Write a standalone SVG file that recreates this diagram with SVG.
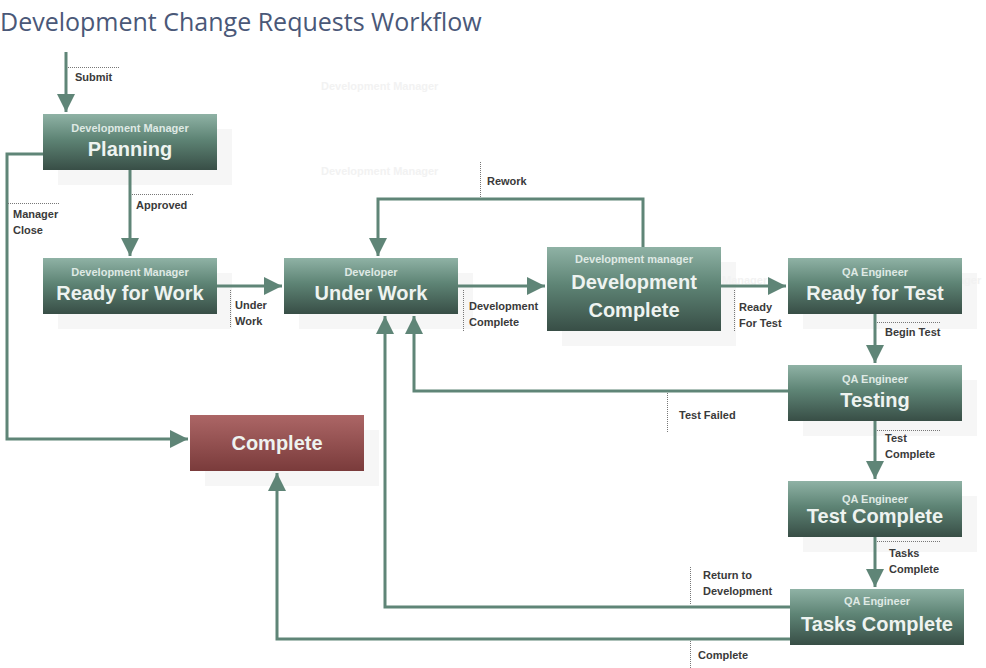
<svg xmlns="http://www.w3.org/2000/svg" width="986" height="668" viewBox="0 0 986 668">
<defs>
<linearGradient id="g" x1="0" y1="0" x2="0" y2="1"><stop offset="0" stop-color="#8fb2a5"/><stop offset="0.45" stop-color="#5e8475"/><stop offset="1" stop-color="#384e46"/></linearGradient>
<linearGradient id="r" x1="0" y1="0" x2="0" y2="1"><stop offset="0" stop-color="#ac6666"/><stop offset="1" stop-color="#7a3b3b"/></linearGradient>
<marker id="a" markerWidth="6" markerHeight="6" refX="6" refY="3" orient="auto" markerUnits="strokeWidth"><path d="M0,0 L6,3 L0,6 Z" fill="#5f8577"/></marker>
<style>
.n{fill:url(#g)}
.sh{fill:#f6f6f6}
.s{font-family:"Liberation Sans",Arial,sans-serif;font-weight:bold;font-size:11px;fill:#dfe9e4;text-anchor:middle}
.b{font-family:"Liberation Sans",Arial,sans-serif;font-weight:bold;font-size:20px;fill:#eef3f0;text-anchor:middle}
.c{fill:none;stroke:#5f8577;stroke-width:3;marker-end:url(#a)}
.d{stroke:#777;stroke-width:1;stroke-dasharray:1,1;fill:none}
.l{font-family:"Liberation Sans",Arial,sans-serif;font-weight:bold;font-size:11px;fill:#3a3a3a}
.gh{font-family:"Liberation Sans",Arial,sans-serif;font-weight:bold;font-size:11px;fill:#f2f2f2}
</style>
</defs>
<rect width="986" height="668" fill="#fff"/>
<text x="0" y="31" font-family="'Open Sans','Liberation Sans',sans-serif" font-size="25" fill="#4a5878">Development Change Requests Workflow</text>
<text class="gh" x="321" y="90">Development Manager</text>
<text class="gh" x="321" y="175">Development Manager</text>
<g id="shadows">
<rect class="sh" x="58" y="129" width="174" height="56"/>
<rect class="sh" x="58" y="273" width="174" height="56"/>
<rect class="sh" x="299" y="273" width="174" height="56"/>
<rect class="sh" x="562" y="262" width="174" height="84"/>
<rect class="sh" x="803" y="273" width="174" height="56"/>
<rect class="sh" x="803" y="380" width="174" height="56"/>
<rect class="sh" x="205" y="430" width="174" height="56"/>
<rect class="sh" x="803" y="496" width="174" height="56"/>
</g>
<text class="gh" x="722" y="284">Manager</text>
<text class="gh" x="958" y="284">ager</text>
<g id="connectors">
<path class="c" d="M66,52 V112"/>
<path class="c" d="M130,170 V256"/>
<path class="c" d="M43,154 H7 V439 H188"/>
<path class="c" d="M217,286 H282"/>
<path class="c" d="M458,286 H545"/>
<path class="c" d="M643,247 V199 H378 V256"/>
<path class="c" d="M721,286 H786"/>
<path class="c" d="M875,314 V363"/>
<path class="c" d="M788,391 H414 V316"/>
<path class="c" d="M875,421 V479"/>
<path class="c" d="M875,537 V587"/>
<path class="c" d="M790,607 H385 V316"/>
<path class="c" d="M790,639 H277 V473"/>
<path class="d" d="M68,67.5 H120 M132,194.5 H193 M8,203.5 H60 M230.5,290 V328 M463.5,290 V331 M480.5,162 V198 M734.5,290 V331 M877,322.5 H940 M667.5,393 V433 M877,430.5 H940 M877,541.5 H940 M690.5,567 V605 M690.5,641 V668"/>
<text class="l" x="75" y="81">Submit</text>
<text class="l" x="136" y="209">Approved</text>
<text class="l" x="13" y="218">Manager</text><text class="l" x="13" y="234">Close</text>
<text class="l" x="235" y="309">Under</text><text class="l" x="235" y="325">Work</text>
<text class="l" x="469" y="310">Development</text><text class="l" x="469" y="326">Complete</text>
<text class="l" x="487" y="185">Rework</text>
<text class="l" x="739" y="311">Ready</text><text class="l" x="739" y="327">For Test</text>
<text class="l" x="885" y="336">Begin Test</text>
<text class="l" x="679" y="419">Test Failed</text>
<text class="l" x="885" y="442">Test</text><text class="l" x="885" y="458">Complete</text>
<text class="l" x="889" y="557">Tasks</text><text class="l" x="889" y="573">Complete</text>
<text class="l" x="703" y="579">Return to</text><text class="l" x="703" y="595">Development</text>
<text class="l" x="698" y="659">Complete</text>
</g>
<g id="planning"><rect class="n" x="43" y="114" width="174" height="56"/><text class="s" x="130" y="132">Development Manager</text><text class="b" x="130" y="156">Planning</text></g>
<g id="readyForWork"><rect class="n" x="43" y="258" width="174" height="56"/><text class="s" x="130" y="276">Development Manager</text><text class="b" x="130" y="300">Ready for Work</text></g>
<g id="underWork"><rect class="n" x="284" y="258" width="174" height="56"/><text class="s" x="371" y="276">Developer</text><text class="b" x="371" y="300">Under Work</text></g>
<g id="devComplete"><rect class="n" x="547" y="247" width="174" height="84"/><text class="s" x="634" y="263">Development manager</text><text class="b" x="634" y="289">Development</text><text class="b" x="634" y="317">Complete</text></g>
<g id="readyForTest"><rect class="n" x="788" y="258" width="174" height="56"/><text class="s" x="875" y="276">QA Engineer</text><text class="b" x="875" y="300">Ready for Test</text></g>
<g id="testing"><rect class="n" x="788" y="365" width="174" height="56"/><text class="s" x="875" y="383">QA Engineer</text><text class="b" x="875" y="407">Testing</text></g>
<g id="complete"><rect x="190" y="415" width="174" height="56" fill="url(#r)"/><text class="b" x="277" y="450">Complete</text></g>
<g id="testComplete"><rect class="n" x="788" y="481" width="174" height="56"/><text class="s" x="875" y="503">QA Engineer</text><text class="b" x="875" y="523">Test Complete</text></g>
<g id="tasksComplete"><rect class="n" x="790" y="589" width="174" height="56"/><text class="s" x="877" y="605">QA Engineer</text><text class="b" x="877" y="631">Tasks Complete</text></g>
</svg>
